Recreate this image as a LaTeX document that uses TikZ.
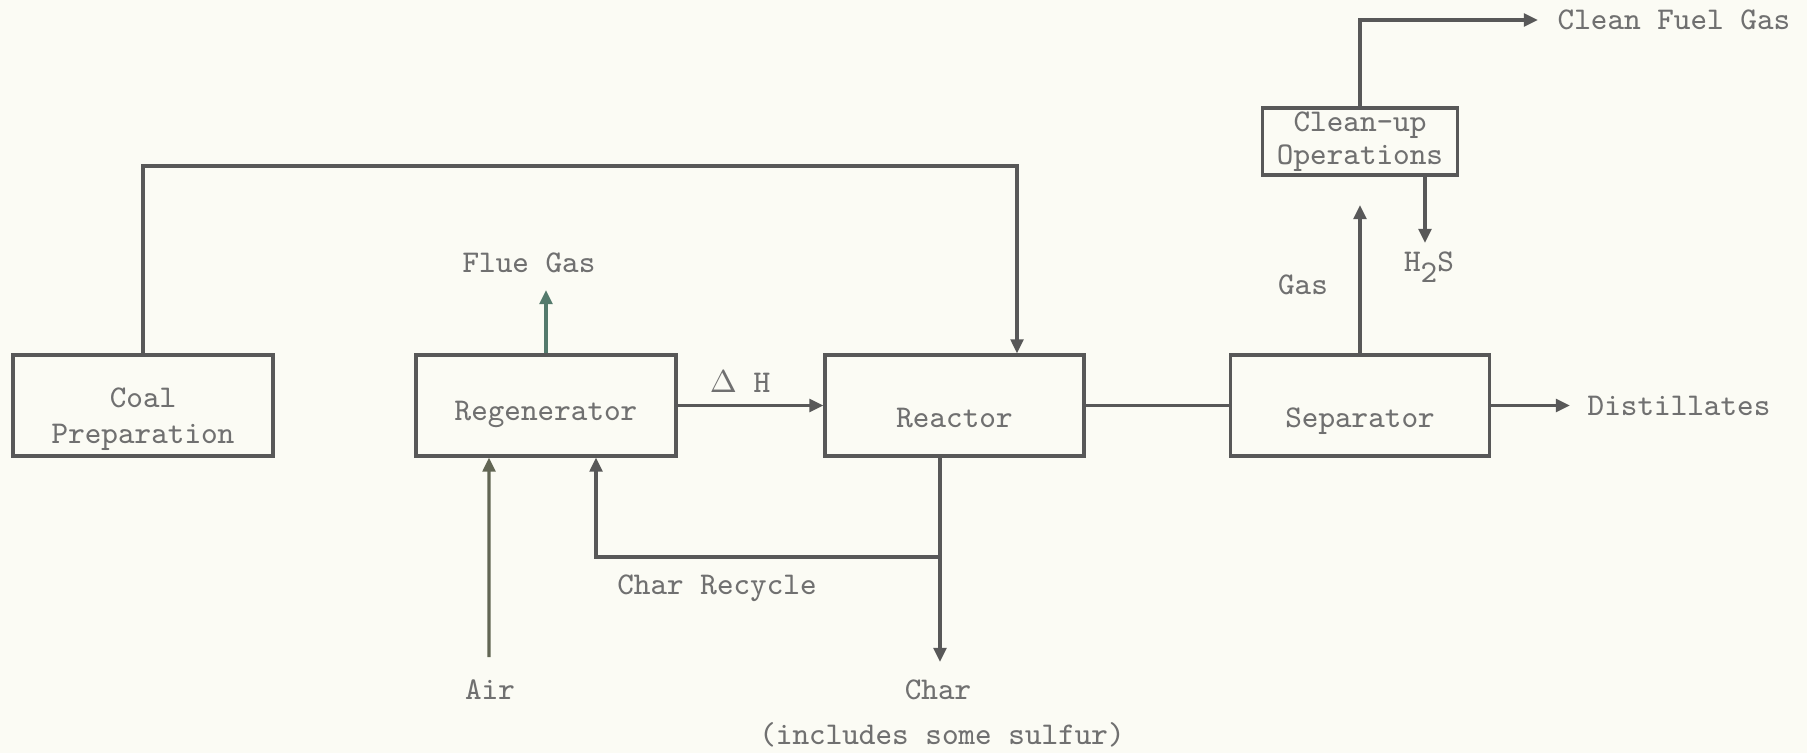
\documentclass[tikz,border=0pt]{standalone}
\usetikzlibrary{arrows.meta}
\definecolor{paper}{RGB}{251,251,244}
\definecolor{ink}{RGB}{88,88,88}
\definecolor{typed}{RGB}{112,112,112}
\definecolor{flueink}{RGB}{84,122,108}
\definecolor{airink}{RGB}{98,102,84}
\begin{document}
\begin{tikzpicture}[
    unit/.style={draw=ink, line width=0.9pt, minimum height=1.01cm, align=center, text=typed,
      font=\ttfamily\fontsize{9}{10.2}\selectfont},
    lbl/.style={text=typed, inner sep=0pt, font=\ttfamily\fontsize{9}{10.2}\selectfont},
    flow/.style={draw=ink, line width=0.9pt, -{Triangle[length=4pt,width=3.6pt]}},
    pipe/.style={draw=ink, line width=0.9pt}
  ]
  \fill[paper] (0,0) rectangle (18.07,7.53);
  \useasboundingbox (0,0) rectangle (18.07,7.53);

  \node[unit, minimum width=2.6cm, inner ysep=0pt] (coal) at (1.43,3.475) {\rule{0pt}{13.3pt}Coal\\Preparation};
  \node[unit, minimum width=2.6cm, text height=10.8pt, text depth=2pt] (regen) at (5.46,3.475) {Regenerator};
  \node[unit, minimum width=2.59cm, text height=14.8pt, text depth=2pt] (reactor) at (9.545,3.475) {Reactor};
  \node[unit, minimum width=2.59cm, text height=14.8pt, text depth=2pt] (sep) at (13.6,3.475) {Separator};
  \node[unit, minimum width=1.95cm, minimum height=0.67cm, inner ysep=0.3pt,
    font=\ttfamily\fontsize{9}{9.4}\selectfont] (cleanup) at (13.6,6.115) {Clean-up\\Operations};

  \node[lbl] (fluegas) at (5.29,4.90) {Flue Gas};
  \node[lbl] (dh) at (7.40,3.71) {$\Delta$ H};
  \node[lbl] (air) at (4.90,0.63) {Air};
  \node[lbl] (char) at (9.38,0.63) {Char};
  \node[lbl] (sulfur) at (9.42,0.18) {(includes some sulfur)};
  \node[lbl] (recycle) at (7.17,1.65) {Char Recycle};
  \node[lbl] (gas) at (13.03,4.68) {Gas};
  \node[lbl] (hs) at (14.29,4.86) {H\raisebox{-0.8ex}{2}S};
  \node[lbl, anchor=west] (fuel) at (15.57,7.33) {Clean Fuel Gas};
  \node[lbl, anchor=west] (dist) at (15.87,3.475) {Distillates};

  \coordinate (fluetip) at (5.46,4.63);
  \coordinate (gastip) at (13.6,5.48);
  \coordinate (hstip) at (14.25,5.10);
  \coordinate (airfoot) at (4.89,0.96);
  \coordinate (split) at (9.40,1.96);
  \coordinate (chartip) at (9.40,0.91);

  \draw[flow] (coal.north) |- (1.43,5.87) -| ([xshift=0.625cm]reactor.north);
  \draw[flow, draw=flueink] (regen.north) -- (fluetip);
  \draw[flow] (regen) -- (reactor);
  \draw[pipe] (reactor) -- (sep);
  \draw[flow] (sep.east) -- ([xshift=-0.17cm]dist.west);
  \draw[flow] (sep.north) -- (gastip);
  \draw[flow] (cleanup.south -| hstip) -- (hstip);
  \draw[flow] (cleanup.north) |- ([xshift=-0.19cm]fuel.west);
  \draw[flow, draw=airink] (airfoot) -- ([xshift=-0.57cm]regen.south);
  \draw[pipe] ([xshift=-0.145cm]reactor.south) -- (split);
  \draw[flow] (split) -| ([xshift=0.5cm]regen.south);
  \draw[flow] (split) -- (chartip);
\end{tikzpicture}
\end{document}
